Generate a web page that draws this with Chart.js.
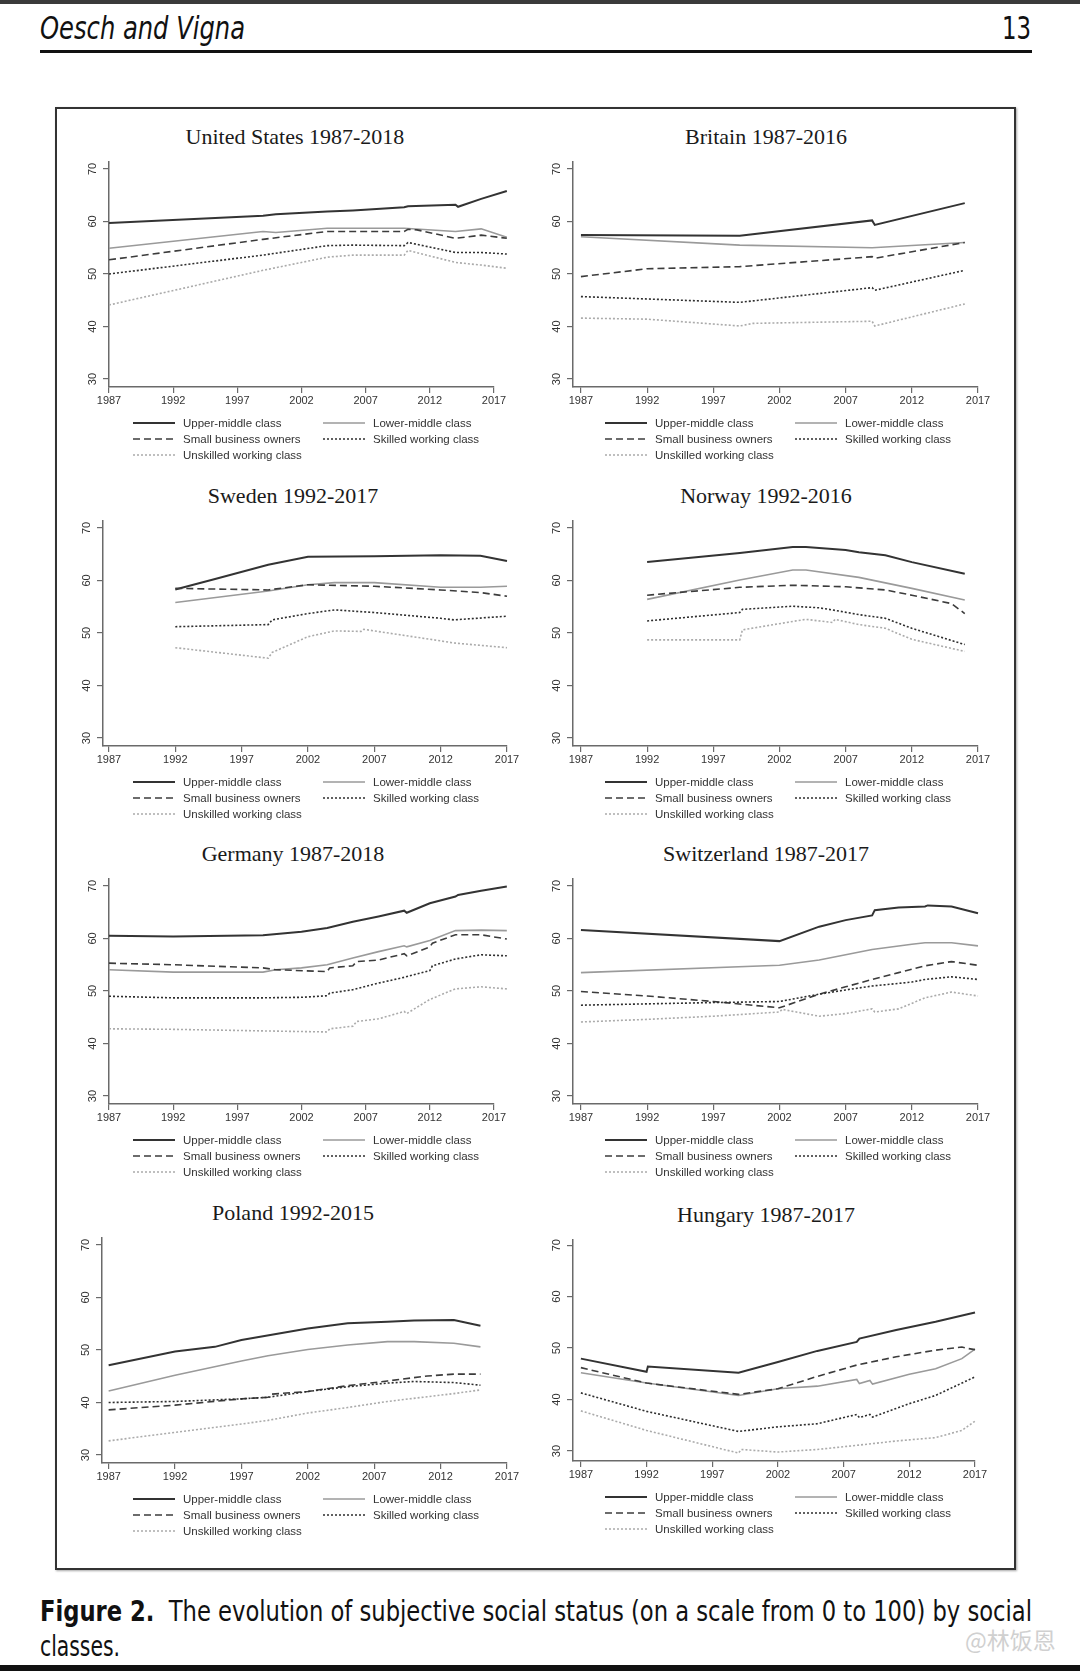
<!DOCTYPE html>
<html><head><meta charset="utf-8">
<script src="https://cdn.jsdelivr.net/npm/chart.js@4.4.0/dist/chart.umd.min.js"></script>
<style>
html,body{margin:0;padding:0;background:#fff;}
#page{position:relative;width:1080px;height:1671px;overflow:hidden;background:#fff;}
.topbar{position:absolute;left:0;top:0;width:1080px;height:4px;background:#3a3a3a;}
.hdr{position:absolute;top:9px;font-family:"Liberation Sans Narrow","DejaVu Sans Condensed","DejaVu Sans",sans-serif;font-style:italic;font-size:32px;line-height:38px;color:#111;white-space:nowrap;}
.rule{position:absolute;left:40px;top:50px;width:992px;height:3px;background:#111;}
.frame{position:absolute;left:55px;top:107px;width:957px;height:1459px;border:2px solid #333;box-shadow:1px 1px 2px rgba(0,0,0,0.35);}
.ptitle{position:absolute;width:400px;text-align:center;font-family:"Liberation Serif","Times New Roman",serif;font-size:22px;line-height:26px;color:#1a1a1a;}
canvas{position:absolute;}
.legend{position:absolute;display:grid;grid-template-columns:190px 190px;font-family:"Liberation Sans",Arial,sans-serif;font-size:11.5px;color:#333;}
.legend .it{display:flex;align-items:center;height:16px;white-space:nowrap;}
.legend svg{margin-right:8px;flex:none;}
.cap{position:absolute;left:40px;font-family:"Liberation Sans Narrow","DejaVu Sans Condensed","DejaVu Sans",sans-serif;font-size:28px;line-height:34px;color:#111;white-space:nowrap;}
.wm{position:absolute;left:965px;top:1622px;font-family:"Noto Sans CJK SC",sans-serif;font-size:23px;color:#d0d0d0;}
.botbar{position:absolute;left:0;top:1665px;width:1080px;height:6px;background:#111;}
</style></head>
<body><div id="page">
<div class="topbar"></div>
<div class="hdr" id="hdrL" style="left:40px;">Oesch and Vigna</div>
<div class="hdr" id="hdrR" style="left:1002px;font-style:normal;">13</div>
<div class="rule"></div>
<div class="frame"></div>
<div class="cap" id="cap1" style="top:1595px;"><b>Figure 2.</b>&nbsp; The evolution of subjective social status (on a scale from 0 to 100) by social</div>
<div class="cap" id="cap2" style="top:1630px;">classes.</div>
<div class="wm">@林饭恩</div>
<div class="botbar"></div>
</div>
<script>
// ---------- shared labels ----------
const classNames = ['Upper-middle class','Lower-middle class','Small business owners','Skilled working class','Unskilled working class'];
const xTicks = [1987,1992,1997,2002,2007,2012,2017];
const yTicks = [30,40,50,60,70];

// ---------- United States ----------
const usYears     = [1987, 1999, 2000, 2004, 2006, 2010, 2010.3, 2011, 2014, 2014.2, 2016, 2018];
const usUpper     = [59.7, 61.1, 61.4, 61.9, 62.1, 62.7, 62.9, null, 63.2, 62.8, 64.3, 65.8];
const usLower     = [54.9, 58.1, 57.9, 58.7, 58.7, 58.7, null, null, 58.1, null, 58.6, 57.0];
const usSmall     = [52.7, 56.6, null, 58.1, 58.1, 58.1, 58.5, 58.4, 56.8, null, 57.4, 56.8];
const usSkilled   = [50.0, 53.6, null, 55.4, 55.5, 55.4, 56.0, null, 54.1, null, 54.1, 53.8];
const usUnskilled = [44.1, 50.7, null, 53.2, 53.6, 53.6, 54.5, null, 52.2, null, 51.7, 51.1];

// ---------- Britain ----------
const gbYears     = [1987, 1992, 1999, 2000, 2009, 2009.2, 2016];
const gbUpper     = [57.45, null, 57.3, null, 60.2, 59.35, 63.5];
const gbLower     = [57.1, null, 55.5, null, 55.0, null, 56.0];
const gbSmall     = [49.5, 51.0, 51.4, null, 53.3, 53.0, 56.0];
const gbSkilled   = [45.7, null, 44.6, null, 47.4, 46.9, 50.7];
const gbUnskilled = [41.6, 41.4, 40.1, 40.6, 41.0, 40.1, 44.3];

// ---------- Sweden ----------
const seYears     = [1992, 1995, 1999, 1999.3, 2002, 2004, 2006, 2006.2, 2007, 2012, 2013, 2015, 2017];
const seUpper     = [58.3, 60.3, 63.0, null, 64.5, null, null, null, 64.6, 64.8, null, 64.7, 63.7];
const seLower     = [55.8, null, 58.0, null, 59.2, 59.6, null, null, 59.6, 58.7, null, 58.7, 58.9];
const seSmall     = [58.5, null, 58.2, null, 59.2, null, null, null, 58.9, 58.2, null, 57.7, 57.0];
const seSkilled   = [51.2, null, 51.6, 52.5, 53.7, 54.4, null, null, 53.9, 52.8, 52.5, null, 53.2];
const seUnskilled = [47.2, null, 45.2, 46.3, 49.3, 50.4, 50.3, 50.7, null, 48.5, 48.1, null, 47.2];

// ---------- Norway ----------
const noYears     = [1992, 1999, 1999.2, 2003, 2004, 2005, 2006, 2006.2, 2007, 2008, 2010, 2012, 2015, 2016];
const noUpper     = [63.5, 65.25, null, 66.4, 66.4, null, null, null, 65.8, 65.4, 64.8, 63.5, null, 61.3];
const noLower     = [56.4, 60.1, null, 62.0, 62.0, null, null, null, null, 60.6, null, 58.5, null, 56.3];
const noSmall     = [57.2, 58.7, null, 59.1, null, null, null, null, 58.8, null, 58.2, 57.2, 55.6, 53.7];
const noSkilled   = [52.3, 53.9, 54.5, 55.1, null, 54.8, 54.4, null, null, 53.5, 52.8, 50.9, null, 47.8];
const noUnskilled = [48.7, 48.7, 50.6, 52.2, 52.6, null, 52.0, 52.6, null, 51.6, 50.9, 48.8, null, 46.5];

// ---------- Germany ----------
const deYears     = [1987, 1992, 1999, 2000, 2002, 2004, 2004.2, 2006, 2006.3, 2008, 2010, 2010.2, 2012, 2012.2, 2014, 2014.2, 2016, 2018];
const deUpper     = [60.5, 60.4, 60.6, null, 61.3, 62.0, null, 63.2, null, 64.2, 65.3, 64.9, 66.7, null, 68.0, 68.3, 69.1, 69.9];
const deLower     = [54.05, 53.6, 53.6, 54.05, 54.4, 55.0, null, 56.3, null, 57.5, 58.6, 58.4, 59.6, null, 61.5, null, 61.6, 61.5];
const deSmall     = [55.3, 55.0, 54.4, 54.05, null, 53.7, 54.4, 54.8, 55.6, 55.9, 57.1, 56.7, 58.4, 59.1, 60.7, null, 60.7, 59.9];
const deSkilled   = [49.0, 48.7, 48.7, null, 48.8, 49.1, 49.6, 50.25, null, 51.5, 52.6, null, 53.9, 54.8, 56.1, null, 56.9, 56.7];
const deUnskilled = [42.8, 42.7, 42.4, null, null, 42.2, 42.8, 43.3, 44.2, 44.7, 46.1, 45.7, 48.4, null, 50.4, null, 50.8, 50.4];

// ---------- Switzerland ----------
const chYears     = [1987, 1992, 1997, 2002, 2002.2, 2005, 2007, 2009, 2009.2, 2011, 2012, 2013, 2013.2, 2015, 2017];
const chUpper     = [61.6, null, null, 59.5, null, 62.25, 63.5, 64.4, 65.4, 65.9, null, 66.1, 66.3, 66.1, 64.8];
const chLower     = [53.5, null, null, 54.9, null, 55.9, null, 57.9, null, null, 58.9, 59.2, null, 59.2, 58.6];
const chSmall     = [49.9, 49.05, 48.0, 46.8, null, 49.4, 50.8, 52.2, null, 53.5, null, 54.8, null, 55.6, 54.9];
const chSkilled   = [47.3, null, 47.8, 48.0, null, 49.4, 50.2, 50.95, null, null, 51.7, 52.2, null, 52.7, 52.2];
const chUnskilled = [44.1, 44.6, 45.2, 46.0, 46.5, 45.2, 45.7, 46.6, 46.0, 46.6, null, 48.7, null, 49.8, 49.05];

// ---------- Poland ----------
const plYears     = [1987, 1992, 1995, 1997, 1999, 1999.3, 2002, 2005, 2008, 2010, 2011, 2013, 2015];
const plUpper     = [47.1, 49.7, 50.6, 51.9, null, null, 54.1, 55.1, 55.4, 55.6, null, 55.7, 54.6];
const plLower     = [42.2, 45.2, null, 47.9, 48.9, null, 50.1, 50.95, 51.6, 51.6, null, 51.3, 50.6];
const plSmall     = [38.6, 39.5, null, 40.7, 41.0, 41.6, 42.1, 43.2, 44.1, null, 45.05, 45.4, 45.4];
const plSkilled   = [40.0, 40.2, null, 40.7, 41.0, null, 42.1, 43.0, 43.7, 44.0, null, 43.8, 43.3];
const plUnskilled = [32.7, 34.3, null, 35.9, 36.6, null, 38.0, 39.05, 40.2, null, 41.1, 41.7, 42.4];

// ---------- Hungary ----------
const huYears     = [1987, 1992, 1992.1, 1999, 1999.2, 2002, 2005, 2008, 2008.2, 2009, 2009.2, 2011, 2012, 2014, 2016, 2016.5, 2017];
const huUpper     = [47.95, 45.4, 46.4, 45.2, null, 47.3, 49.45, 51.2, 51.85, null, null, 53.5, null, 55.1, null, null, 56.9];
const huLower     = [45.2, 43.2, null, 40.8, null, 42.1, 42.6, 43.9, 43.1, 43.7, 43.0, null, 44.9, 46.0, 47.95, null, 49.8];
const huSmall     = [46.2, 43.2, null, 41.0, null, 42.1, 44.5, 46.7, null, null, null, 48.3, null, 49.6, 50.2, 49.9, 49.7];
const huSkilled   = [41.3, 37.7, null, 33.8, null, 34.7, 35.3, 37.1, 36.5, 37.1, 36.6, null, 39.2, 40.8, null, null, 44.4];
const huUnskilled = [37.8, 34.0, null, 29.6, 30.3, 29.8, 30.3, 31.1, null, null, null, 31.95, null, 32.6, 34.0, null, 35.8];

// ---------- panels (data references) ----------
const panels = [
  {title:'United States 1987-2018', years:usYears, series:[usUpper,usLower,usSmall,usSkilled,usUnskilled]},
  {title:'Britain 1987-2016',       years:gbYears, series:[gbUpper,gbLower,gbSmall,gbSkilled,gbUnskilled]},
  {title:'Sweden 1992-2017',        years:seYears, series:[seUpper,seLower,seSmall,seSkilled,seUnskilled]},
  {title:'Norway 1992-2016',        years:noYears, series:[noUpper,noLower,noSmall,noSkilled,noUnskilled]},
  {title:'Germany 1987-2018',       years:deYears, series:[deUpper,deLower,deSmall,deSkilled,deUnskilled]},
  {title:'Switzerland 1987-2017',   years:chYears, series:[chUpper,chLower,chSmall,chSkilled,chUnskilled]},
  {title:'Poland 1992-2015',        years:plYears, series:[plUpper,plLower,plSmall,plSkilled,plUnskilled]},
  {title:'Hungary 1987-2017',       years:huYears, series:[huUpper,huLower,huSmall,huSkilled,huUnskilled]}
];

// ---------- layout & styles (separate from data) ----------
const layouts = [
  {left:109,right:494,top:162,bottom:387,xMin:1987,xMax:2017,yMin:28.48,yMax:71.33,tx:295,lx:133},
  {left:573,right:978,top:162,bottom:387,xMin:1986.4,xMax:2017,yMin:28.48,yMax:71.33,tx:766,lx:605},
  {left:103,right:507,top:521,bottom:746,xMin:1986.55,xMax:2017,yMin:28.48,yMax:71.33,tx:293,lx:133},
  {left:573,right:978,top:521,bottom:746,xMin:1986.4,xMax:2017,yMin:28.48,yMax:71.33,tx:766,lx:605},
  {left:109,right:494,top:879,bottom:1104,xMin:1987,xMax:2017,yMin:28.48,yMax:71.33,tx:293,lx:133},
  {left:573,right:978,top:879,bottom:1104,xMin:1986.4,xMax:2017,yMin:28.48,yMax:71.33,tx:766,lx:605},
  {left:102,right:507,top:1238,bottom:1463,xMin:1986.5,xMax:2017,yMin:28.48,yMax:71.33,tx:293,lx:133},
  {left:573,right:975,top:1240,bottom:1461,xMin:1986.4,xMax:2017,yMin:28.06,yMax:71.0,tx:766,lx:605}
];
const styles = [
  {color:'#333333', width:2.0, dash:[]},
  {color:'#9a9a9a', width:1.6, dash:[]},
  {color:'#3c3c3c', width:1.6, dash:[7,4]},
  {color:'#2e2e2e', width:1.6, dash:[2,2]},
  {color:'#ababab', width:1.6, dash:[2,2]}
];

const yLabelPlugin = {
  id:'ylab',
  afterDraw(chart){
    const s = chart.scales.y, ctx = chart.ctx;
    ctx.save();
    ctx.font = '11px "Liberation Sans", Arial, sans-serif';
    ctx.fillStyle = '#333';
    ctx.textAlign = 'center';
    ctx.textBaseline = 'middle';
    yTicks.forEach(v => {
      const py = s.getPixelForValue(v);
      ctx.save();
      ctx.translate(s.right - 16, py);
      ctx.rotate(-Math.PI/2);
      ctx.fillText(String(v), 0, 0);
      ctx.restore();
    });
    ctx.restore();
  }
};

// fit text blocks to the widths seen in the page
function fitWidth(id, target){
  const el = document.getElementById(id);
  const w = el.getBoundingClientRect().width;
  el.style.transformOrigin = 'left top';
  el.style.transform = 'scaleX(' + (target / w) + ')';
}
fitWidth('hdrL', 205);
fitWidth('hdrR', 29);
fitWidth('cap1', 992);
fitWidth('cap2', 80);

const page = document.getElementById('page');
const PADL = 50, PADR = 24, PADT = 6, PADB = 30;

panels.forEach((p, i) => {
  const L = layouts[i];
  const t = document.createElement('div');
  t.className = 'ptitle';
  t.textContent = p.title;
  t.style.left = (L.tx - 200) + 'px';
  t.style.top = (L.top - 25 - 13) + 'px';
  page.appendChild(t);

  const c = document.createElement('canvas');
  const w = (L.right - L.left) + PADL + PADR;
  const h = (L.bottom - L.top) + PADT + PADB;
  c.width = w; c.height = h;
  c.style.width = w + 'px'; c.style.height = h + 'px';
  c.style.left = (L.left - PADL) + 'px';
  c.style.top = (L.top - PADT) + 'px';
  page.appendChild(c);

  const datasets = p.series.map((vals, k) => ({
    label: classNames[k],
    data: p.years.map((x, j) => ({x: x, y: vals[j]})),
    borderColor: styles[k].color,
    borderWidth: styles[k].width,
    borderDash: styles[k].dash,
    pointRadius: 0,
    fill: false,
    spanGaps: true,
    tension: 0,
    clip: false
  })).reverse();

  const gridOpts = {drawOnChartArea:false, drawTicks:true, tickLength:6, color:'#6a6a6a', lineWidth:1.2};
  const borderOpts = {display:true, color:'#6a6a6a', width:1.5};

  new Chart(c, {
    type:'line',
    data:{datasets},
    options:{
      responsive:false, animation:false, devicePixelRatio:1,
      layout:{padding:{left:0, right:PADR, top:PADT, bottom:0}},
      plugins:{legend:{display:false}, title:{display:false}, tooltip:{enabled:false}},
      scales:{
        x:{
          type:'linear', min:L.xMin, max:L.xMax,
          afterBuildTicks: s => { s.ticks = xTicks.map(v => ({value:v})); },
          afterFit: s => { s.height = PADB; },
          grid:gridOpts, border:borderOpts,
          ticks:{padding:1, autoSkip:false, maxRotation:0, minRotation:0, color:'#333',
                 font:{family:'"Liberation Sans", Arial, sans-serif', size:11},
                 callback: v => String(v)}
        },
        y:{
          type:'linear', min:L.yMin, max:L.yMax,
          afterBuildTicks: s => { s.ticks = yTicks.map(v => ({value:v})); },
          afterFit: s => { s.width = PADL; },
          grid:gridOpts, border:borderOpts,
          ticks:{display:false}
        }
      }
    },
    plugins:[yLabelPlugin]
  });

  const lg = document.createElement('div');
  lg.className = 'legend';
  lg.style.left = L.lx + 'px';
  lg.style.top = (L.bottom + 36 - 8) + 'px';
  classNames.forEach((name, k) => {
    const st = styles[k];
    const it = document.createElement('div');
    it.className = 'it';
    const dash = st.dash.length ? ` stroke-dasharray="${st.dash.join(',')}"` : '';
    it.innerHTML = `<svg width="42" height="6"><line x1="0" y1="3" x2="42" y2="3" stroke="${st.color}" stroke-width="${st.width}"${dash}/></svg><span>${name}</span>`;
    lg.appendChild(it);
  });
  page.appendChild(lg);
});
</script>
</body></html>
